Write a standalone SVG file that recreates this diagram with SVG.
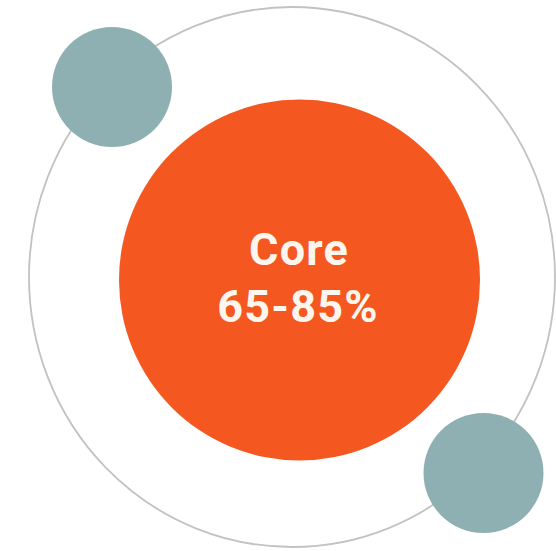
<svg xmlns="http://www.w3.org/2000/svg" width="556" height="551" viewBox="0 0 556 551">
<style>
.orbit{fill:none;stroke:#c2c2c2;stroke-width:1.8}
.sat{fill:#8fb0b2}
.core{fill:#f45820}
.lbl{font-family:Roboto,"Liberation Sans",sans-serif;font-weight:bold;font-size:45px;letter-spacing:1.2px;fill:#fdf6ee;text-anchor:middle}
</style>
<rect width="556" height="551" fill="#ffffff"/>
<g id="orbit"><ellipse class="orbit" cx="292" cy="277" rx="263" ry="270"/></g>
<g id="core">
<circle class="core" cx="299.5" cy="280" r="180.5"/>
<text class="lbl" x="299" y="265">Core</text>
<text class="lbl" x="298" y="322">65-85%</text>
</g>
<g id="sat1"><circle class="sat" cx="112" cy="87" r="60"/></g>
<g id="sat2"><circle class="sat" cx="483.5" cy="473" r="60"/></g>
</svg>
